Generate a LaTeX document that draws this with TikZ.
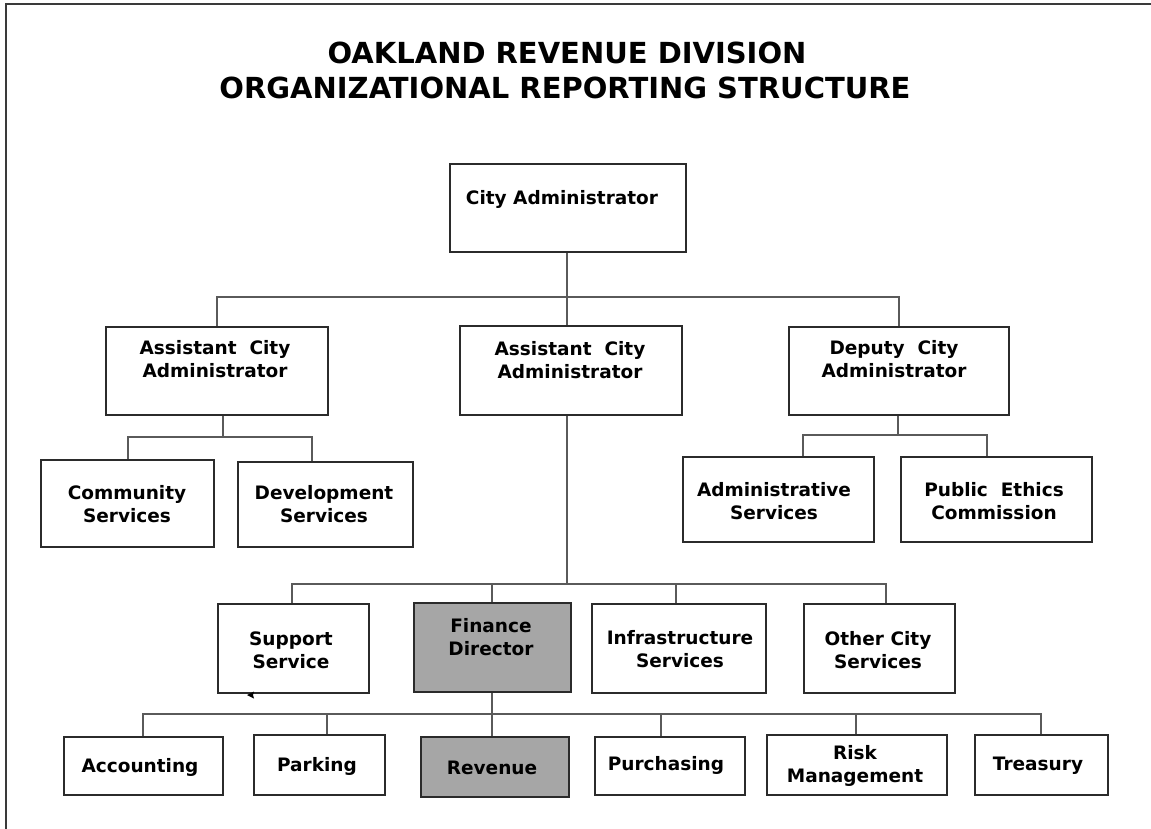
\documentclass[tikz,border=0pt]{standalone}
\usepackage{fontspec}
\setmainfont{DejaVu Sans}
\usetikzlibrary{fit}
\definecolor{boxline}{HTML}{2B2B2B}
\definecolor{linegray}{HTML}{5A5A5A}
\definecolor{boxgray}{HTML}{A6A6A6}
\definecolor{framegray}{HTML}{3A3A3A}
\begin{document}
\begin{tikzpicture}[x=1pt,y=-1pt,
  orgbox/.style={draw=boxline, line width=1.8pt, inner sep=0pt},
  shaded/.style={fill=boxgray},
  boxtext/.style={font=\bfseries\fontsize{18.5}{23}\selectfont, align=center, inner sep=0pt, text=black},
  titletext/.style={font=\bfseries\fontsize{29}{34}\selectfont, inner sep=0pt, text=black},
  link/.style={draw=linegray, line width=2pt},
  ]
\useasboundingbox (0,0) rectangle (1151,829);

% page frame (top and left edges)
\coordinate (frame) at (6,4);
\draw[framegray, line width=2pt] (6,829) -- (frame) -- (1151,4);

% title
\node[titletext] (title1) at (567,53) {OAKLAND REVENUE DIVISION};
\node[titletext] (title2) at (565,88) {ORGANIZATIONAL REPORTING STRUCTURE};

% level 0 and 1
\node[orgbox, fit={(450,164) (686,252)}] (ca) {};
\node[orgbox, fit={(106,327) (328,415)}] (aca1) {};
\node[orgbox, fit={(460,326) (682,415)}] (aca2) {};
\node[orgbox, fit={(789,327) (1009,415)}] (dca) {};

% level 2 (upper)
\node[orgbox, fit={(41,460) (214,547)}] (cs) {};
\node[orgbox, fit={(238,462) (413,547)}] (ds) {};
\node[orgbox, fit={(683,457) (874,542)}] (as) {};
\node[orgbox, fit={(901,457) (1092,542)}] (pec) {};

% departments under the middle assistant
\node[orgbox, fit={(218,604) (369,693)}] (ss) {};
\node[orgbox, shaded, fit={(414,603) (571,692)}] (fd) {};
\node[orgbox, fit={(592,604) (766,693)}] (is) {};
\node[orgbox, fit={(804,604) (955,693)}] (ocs) {};

% finance divisions
\node[orgbox, fit={(64,737) (223,795)}] (acc) {};
\node[orgbox, fit={(254,735) (385,795)}] (par) {};
\node[orgbox, shaded, fit={(421,737) (569,797)}] (rev) {};
\node[orgbox, fit={(595,737) (745,795)}] (pur) {};
\node[orgbox, fit={(767,735) (947,795)}] (risk) {};
\node[orgbox, fit={(975,735) (1108,795)}] (tre) {};

% box labels
\node[boxtext] (ca-t) at (562,199) {City Administrator};
\node[boxtext] (aca1-t) at (215,359) {Assistant\ \ City\\Administrator};
\node[boxtext] (aca2-t) at (570,360) {Assistant\ \ City\\Administrator};
\node[boxtext] (dca-t) at (894,359) {Deputy\ \ City\\Administrator};
\node[boxtext] (cs-t) at (127,504) {Community\\Services};
\node[boxtext] (ds-t) at (324,504) {Development\\Services};
\node[boxtext] (as-t) at (774,501) {Administrative\\Services};
\node[boxtext] (pec-t) at (994,501) {Public\ \ Ethics\\Commission};
\node[boxtext] (ss-t) at (291,650) {Support\\Service};
\node[boxtext] (fd-t) at (491,637) {Finance\\Director};
\node[boxtext] (is-t) at (680,649) {Infrastructure\\Services};
\node[boxtext] (ocs-t) at (878,650) {Other City\\Services};
\node[boxtext] (acc-t) at (140,767) {Accounting};
\node[boxtext] (par-t) at (317,766) {Parking};
\node[boxtext] (rev-t) at (492,768) {Revenue};
\node[boxtext] (pur-t) at (666,765) {Purchasing};
\node[boxtext] (risk-t) at (855,766) {Risk\\Management};
\node[boxtext] (tre-t) at (1038,766) {Treasury};

% City Administrator to the three assistants
\coordinate (b1) at (567,297);
\draw[link] (ca.south -| b1) -- (aca2.north -| b1);
\draw[link] (aca1.north) |- (b1) -| (dca.north);

% left assistant to its services
\coordinate (j1) at (223,437);
\coordinate (j1a) at (128,437);
\coordinate (j1b) at (312,437);
\draw[link] (aca1.south -| j1) -- (j1);
\draw[link] (j1a |- cs.north) -- (j1a) -- (j1b) -- (j1b |- ds.north);

% deputy to its services
\coordinate (j2) at (898,435);
\coordinate (j2a) at (803,435);
\coordinate (j2b) at (987,435);
\draw[link] (dca.south -| j2) -- (j2);
\draw[link] (j2a |- as.north) -- (j2a) -- (j2b) -- (j2b |- pec.north);

% middle assistant to its departments
\coordinate (j3) at (567,584);
\coordinate (j3a) at (292,584);
\coordinate (j3b) at (886,584);
\coordinate (j3c) at (492,584);
\coordinate (j3d) at (676,584);
\draw[link] (aca2.south -| j3) -- (j3);
\draw[link] (j3a |- ss.north) -- (j3a) -- (j3b) -- (j3b |- ocs.north);
\draw[link] (j3c) -- (j3c |- fd.north);
\draw[link] (j3d) -- (j3d |- is.north);

% Finance Director to its divisions
\coordinate (j4) at (492,714);
\coordinate (j4a) at (143,714);
\coordinate (j4b) at (1041,714);
\coordinate (j4c) at (327,714);
\coordinate (j4d) at (661,714);
\coordinate (j4e) at (856,714);
\draw[link] (fd.south -| j4) -- (j4 |- rev.north);
\draw[link] (j4a |- acc.north) -- (j4a) -- (j4b) -- (j4b |- tre.north);
\draw[link] (j4c) -- (j4c |- par.north);
\draw[link] (j4d) -- (j4d |- pur.north);
\draw[link] (j4e) -- (j4e |- risk.north);

% small stray arrow tip on the Support Service box
\coordinate (tip) at (247,695);
\fill[black] (tip) -- ++(7,-3.5) -- ++(-1,3.5) -- ++(1,3.5) -- cycle;
\end{tikzpicture}
\end{document}
